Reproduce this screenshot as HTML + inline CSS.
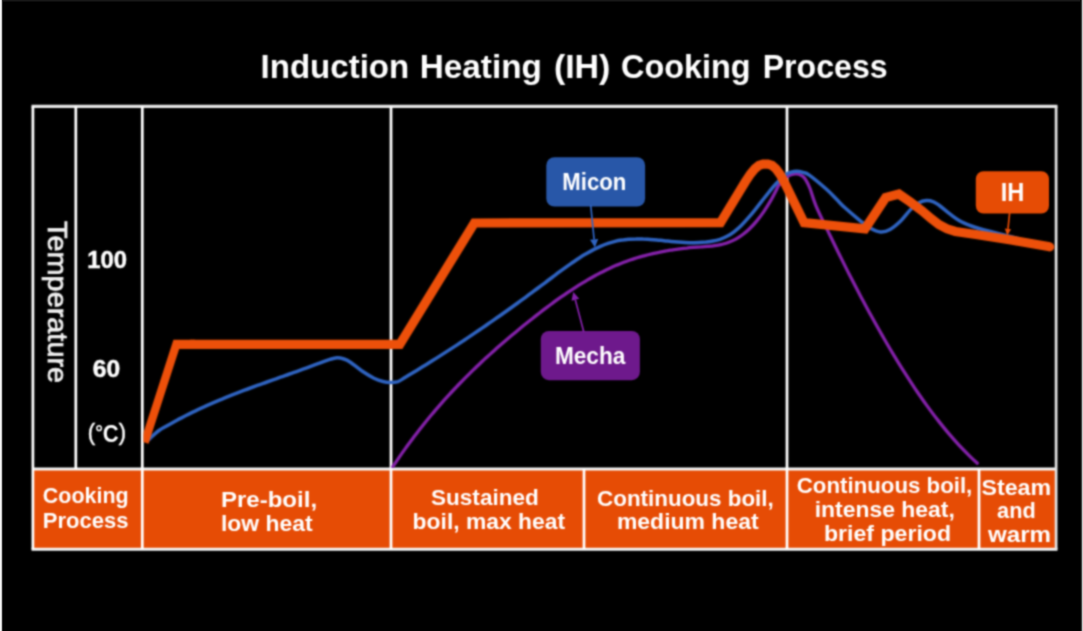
<!DOCTYPE html>
<html><head><meta charset="utf-8"><title>Induction Heating (IH) Cooking Process</title>
<style>html,body{margin:0;padding:0;background:#000;overflow:hidden}body{position:relative;width:1083px;height:631px;font-family:"Liberation Sans",sans-serif}.e{position:absolute}</style>
</head><body>
<svg width="1083" height="631" viewBox="0 0 1083 631" font-family="'Liberation Sans', sans-serif" style="display:block"><defs><filter id="bl2" x="100" y="100" width="1000" height="400" filterUnits="userSpaceOnUse" color-interpolation-filters="sRGB"><feConvolveMatrix order="7 1" kernelMatrix="0.00000 0.00004 0.07239 0.85513 0.07239 0.00004 0.00000" edgeMode="none" preserveAlpha="false" result="h"/><feConvolveMatrix in="h" order="1 7" kernelMatrix="0.00000 0.00004 0.07239 0.85513 0.07239 0.00004 0.00000" edgeMode="none" preserveAlpha="false"/></filter><filter id="bl" x="0" y="0" width="1083" height="631" filterUnits="userSpaceOnUse" color-interpolation-filters="sRGB"><feConvolveMatrix order="7 1" kernelMatrix="0.00044 0.02191 0.22831 0.49868 0.22831 0.02191 0.00044" edgeMode="duplicate" preserveAlpha="true" result="h"/><feConvolveMatrix in="h" order="1 7" kernelMatrix="0.00044 0.02191 0.22831 0.49868 0.22831 0.02191 0.00044" edgeMode="duplicate" preserveAlpha="true"/></filter></defs><g filter="url(#bl)"><rect x="0" y="0" width="1083" height="631" fill="#000"/>
<rect x="32.9" y="469" width="1023.2" height="80.2" fill="#e64c05"/>
<line x1="31.525" y1="106.4" x2="1057.475" y2="106.4" stroke="#e6e6e6" stroke-width="3.1"/>
<line x1="32.9" y1="469.0" x2="1056.1" y2="469.0" stroke="#f4f4f4" stroke-width="3.1"/>
<line x1="31.525" y1="549.3000000000001" x2="1057.475" y2="549.3000000000001" stroke="#f4f4f4" stroke-width="3.1"/>
<line x1="32.9" y1="106.4" x2="32.9" y2="549.2" stroke="#ffffff" stroke-width="2.75"/>
<line x1="1056.1" y1="106.4" x2="1056.1" y2="549.2" stroke="#e2e2e2" stroke-width="2.75"/>
<line x1="75.8" y1="106.4" x2="75.8" y2="469.0" stroke="#ffffff" stroke-width="2.75"/>
<line x1="142.3" y1="106.4" x2="142.3" y2="549.2" stroke="#ffffff" stroke-width="2.75"/>
<line x1="391.0" y1="106.4" x2="391.0" y2="549.2" stroke="#ffffff" stroke-width="2.75"/>
<line x1="584.0" y1="469.0" x2="584.0" y2="549.2" stroke="#ffffff" stroke-width="2.75"/>
<line x1="787.0" y1="106.4" x2="787.0" y2="549.2" stroke="#ffffff" stroke-width="2.75"/>
<line x1="979.0" y1="469.0" x2="979.0" y2="549.2" stroke="#ffffff" stroke-width="2.75"/>
<clipPath id="plot"><rect x="143.5" y="108" width="912" height="360"/></clipPath>
<g clip-path="url(#plot)" fill="none"><g filter="url(#bl2)">
<path d="M392.8,466.6 C394.0,464.9 397.5,459.7 399.8,456.4 C402.1,453.0 404.5,449.7 406.8,446.5 C409.1,443.3 411.5,440.2 413.8,437.1 C416.1,434.0 418.5,431.0 420.8,428.0 C423.1,425.1 425.5,422.1 427.8,419.3 C430.1,416.4 432.5,413.7 434.8,410.9 C437.1,408.2 439.5,405.5 441.8,402.8 C444.1,400.2 446.5,397.6 448.8,395.1 C451.1,392.5 453.5,390.0 455.8,387.6 C458.1,385.1 460.5,382.7 462.8,380.3 C465.1,377.9 467.5,375.6 469.8,373.3 C472.1,371.0 474.5,368.8 476.8,366.5 C479.1,364.3 481.5,362.1 483.8,359.9 C486.1,357.8 488.5,355.7 490.8,353.6 C493.1,351.5 495.5,349.4 497.8,347.3 C500.1,345.3 502.5,343.3 504.8,341.3 C507.1,339.3 509.5,337.3 511.8,335.3 C514.1,333.4 516.5,331.4 518.8,329.5 C521.1,327.6 523.5,325.6 525.8,323.8 C528.1,321.9 530.5,320.0 532.8,318.2 C535.1,316.3 537.5,314.5 539.8,312.7 C542.1,310.9 544.5,309.1 546.8,307.4 C549.1,305.6 551.5,303.9 553.8,302.2 C556.1,300.5 558.5,298.8 560.8,297.2 C563.1,295.6 565.5,294.0 567.8,292.4 C570.1,290.8 572.5,289.3 574.8,287.8 C577.1,286.3 579.5,284.8 581.8,283.4 C584.1,282.0 586.5,280.6 588.8,279.2 C591.1,277.9 593.5,276.6 595.8,275.3 C598.1,274.1 600.5,272.8 602.8,271.7 C605.1,270.5 607.5,269.3 609.8,268.3 C612.1,267.2 614.5,266.1 616.8,265.1 C619.1,264.2 621.5,263.2 623.8,262.3 C626.1,261.4 628.5,260.6 630.8,259.8 C633.1,259.0 635.5,258.3 637.8,257.5 C640.1,256.8 642.5,256.2 644.8,255.6 C647.1,254.9 649.5,254.3 651.8,253.8 C654.1,253.3 656.5,252.7 658.8,252.3 C661.1,251.8 663.5,251.4 665.8,251.0 C668.1,250.5 670.5,250.2 672.8,249.8 C675.1,249.5 677.5,249.2 679.8,248.9 C682.1,248.6 684.5,248.3 686.8,248.1 C689.1,247.8 691.5,247.6 693.8,247.4 C696.1,247.2 698.5,247.0 700.8,246.9 C703.1,246.7 705.5,246.6 707.8,246.4 C710.1,246.2 712.5,246.0 714.8,245.6 C717.1,245.3 719.5,244.9 721.8,244.4 C724.1,243.8 726.5,243.2 728.8,242.3 C731.1,241.4 733.5,240.4 735.8,239.1 C738.1,237.8 740.5,236.3 742.8,234.5 C745.1,232.8 747.5,230.8 749.8,228.5 C752.1,226.3 754.5,223.8 756.8,220.9 C759.1,218.1 761.5,215.0 763.8,211.6 C766.1,208.2 768.5,204.4 770.8,200.4 C773.1,196.3 776.5,189.6 777.8,187.1 C779.1,184.6 777.6,186.7 778.6,185.5 C779.6,184.2 782.3,181.1 784.0,179.5 C785.7,177.9 787.2,176.5 789.0,175.6 C790.8,174.7 793.3,174.0 795.0,173.8 C796.7,173.6 797.7,173.8 799.0,174.3 C800.3,174.8 801.8,175.6 803.0,176.6 C804.2,177.6 805.0,178.6 806.2,180.6 C807.4,182.6 808.3,184.2 810.0,188.5 C811.7,192.8 813.3,199.5 816.2,206.3 C819.1,213.2 823.5,221.9 827.2,229.6 C830.9,237.2 834.5,244.8 838.2,252.2 C841.9,259.6 845.5,267.0 849.2,274.2 C852.9,281.4 856.5,288.4 860.2,295.4 C863.9,302.3 867.5,309.1 871.2,315.8 C874.9,322.5 878.5,329.0 882.2,335.4 C885.9,341.8 889.5,348.1 893.2,354.1 C896.9,360.2 900.5,366.2 904.2,371.9 C907.9,377.7 911.5,383.3 915.2,388.8 C918.9,394.2 922.5,399.5 926.2,404.6 C929.9,409.7 933.5,414.6 937.2,419.3 C940.9,424.0 944.5,428.6 948.2,432.9 C951.9,437.3 955.5,441.4 959.2,445.4 C962.9,449.3 967.2,453.6 970.2,456.6 C973.2,459.6 976.1,462.1 977.3,463.2" stroke="#8521aa" stroke-width="3.3" stroke-linecap="round"/>
<path d="M147.0,441.5 C147.5,441.0 148.0,440.2 150.0,438.4 C152.0,436.6 156.0,432.7 159.0,430.5 C162.0,428.4 165.0,427.0 168.0,425.2 C171.0,423.5 174.0,421.9 177.0,420.2 C180.0,418.6 183.0,417.1 186.0,415.5 C189.0,414.0 192.0,412.5 195.0,411.1 C198.0,409.6 201.0,408.2 204.0,406.9 C207.0,405.5 210.0,404.2 213.0,402.9 C216.0,401.6 219.0,400.3 222.0,399.1 C225.0,397.8 228.0,396.6 231.0,395.4 C234.0,394.2 237.0,393.1 240.0,391.9 C243.0,390.8 246.0,389.6 249.0,388.5 C252.0,387.4 255.0,386.3 258.0,385.2 C261.0,384.1 264.0,383.1 267.0,382.0 C270.0,380.9 273.0,379.8 276.0,378.8 C279.0,377.7 282.0,376.7 285.0,375.6 C288.0,374.5 291.0,373.5 294.0,372.4 C297.0,371.3 300.0,370.3 303.0,369.2 C306.0,368.1 309.5,366.8 312.0,365.9 C314.5,365.0 315.0,364.8 318.0,363.7 C321.0,362.6 326.8,360.4 330.0,359.4 C333.2,358.4 334.7,357.9 337.0,357.8 C339.3,357.7 341.8,358.3 344.0,359.0 C346.2,359.7 347.0,360.0 350.0,362.0 C353.0,364.0 358.0,368.3 362.0,371.0 C366.0,373.7 370.5,376.4 374.0,378.2 C377.5,379.9 380.3,380.8 383.0,381.5 C385.7,382.2 387.5,382.4 390.0,382.4 C392.5,382.4 395.5,382.4 398.0,381.6 C400.5,380.7 402.7,378.8 405.0,377.4 C407.3,376.1 409.7,374.7 412.0,373.3 C414.3,371.8 416.7,370.4 419.0,369.0 C421.3,367.6 423.7,366.1 426.0,364.7 C428.3,363.3 430.7,361.8 433.0,360.3 C435.3,358.9 437.7,357.4 440.0,355.9 C442.3,354.4 444.7,352.9 447.0,351.4 C449.3,349.9 451.7,348.4 454.0,346.9 C456.3,345.4 458.7,343.8 461.0,342.3 C463.3,340.7 465.7,339.2 468.0,337.6 C470.3,336.1 472.7,334.5 475.0,332.9 C477.3,331.3 479.7,329.7 482.0,328.1 C484.3,326.5 486.7,324.9 489.0,323.3 C491.3,321.7 493.7,320.1 496.0,318.4 C498.3,316.8 500.7,315.2 503.0,313.5 C505.3,311.9 507.7,310.2 510.0,308.5 C512.3,306.8 514.7,305.2 517.0,303.5 C519.3,301.8 521.7,300.1 524.0,298.4 C526.3,296.7 528.7,295.0 531.0,293.2 C533.3,291.5 535.7,289.8 538.0,288.0 C540.3,286.3 542.7,284.5 545.0,282.8 C547.3,281.0 549.7,279.2 552.0,277.5 C554.3,275.7 556.7,274.0 559.0,272.2 C561.3,270.5 563.7,268.8 566.0,267.1 C568.3,265.4 570.7,263.8 573.0,262.2 C575.3,260.6 577.7,259.0 580.0,257.5 C582.3,256.0 584.7,254.6 587.0,253.2 C589.3,251.9 591.7,250.6 594.0,249.4 C596.3,248.2 598.7,247.1 601.0,246.1 C603.3,245.1 605.7,244.2 608.0,243.4 C610.3,242.6 612.7,242.0 615.0,241.4 C617.3,240.8 619.7,240.4 622.0,240.1 C624.3,239.7 626.7,239.5 629.0,239.3 C631.3,239.1 633.7,239.0 636.0,239.0 C638.3,238.9 640.7,239.0 643.0,239.1 C645.3,239.1 647.7,239.3 650.0,239.4 C652.3,239.6 654.7,239.8 657.0,240.0 C659.3,240.2 661.7,240.5 664.0,240.7 C666.3,240.9 668.7,241.2 671.0,241.4 C673.3,241.6 675.7,241.8 678.0,242.0 C680.3,242.2 682.7,242.4 685.0,242.5 C687.3,242.6 689.7,242.7 692.0,242.7 C694.3,242.8 696.7,242.7 699.0,242.6 C701.3,242.5 703.7,242.3 706.0,242.1 C708.3,241.8 710.7,241.5 713.0,241.0 C715.3,240.6 717.7,240.0 720.0,239.3 C722.3,238.5 724.7,237.6 727.0,236.3 C729.3,235.1 731.7,233.6 734.0,231.8 C736.3,230.0 738.7,228.0 741.0,225.7 C743.3,223.4 745.7,220.9 748.0,218.2 C750.3,215.6 752.7,212.7 755.0,209.8 C757.3,206.9 759.7,203.9 762.0,200.9 C764.3,198.0 766.7,194.9 769.0,192.1 C771.3,189.2 773.2,186.6 776.0,183.7 C778.8,180.8 783.0,176.7 785.5,174.8 C788.0,172.9 789.1,172.8 791.0,172.2 C792.9,171.6 794.6,171.2 796.6,171.2 C798.6,171.2 800.9,171.8 803.0,172.4 C805.1,173.1 805.4,172.3 809.3,175.1 C813.2,177.9 821.9,185.2 826.5,189.3 C831.1,193.4 833.7,196.5 836.8,199.6 C839.9,202.7 841.1,204.3 845.0,207.8 C848.9,211.3 856.1,217.4 860.3,220.8 C864.5,224.2 866.6,226.1 870.0,228.0 C873.4,229.9 877.3,231.8 880.6,232.0 C883.9,232.2 886.6,231.4 890.0,229.5 C893.4,227.6 897.5,224.1 900.9,220.8 C904.3,217.5 907.6,212.6 910.5,209.6 C913.4,206.6 915.9,204.5 918.5,203.0 C921.1,201.5 923.8,200.8 926.3,200.6 C928.8,200.4 931.3,201.0 933.5,201.8 C935.7,202.6 936.7,203.5 939.4,205.5 C942.1,207.5 946.1,211.1 949.5,213.7 C952.9,216.2 956.1,218.8 959.5,220.8 C962.9,222.8 966.6,224.2 970.0,225.5 C973.4,226.8 975.3,227.5 980.0,228.8 C984.7,230.1 991.3,231.8 998.0,233.5 C1004.7,235.2 1016.3,238.1 1020.0,239.0" stroke="#2f64c2" stroke-width="3.5"/>
<polygon points="140.65,441.33 173.43,339.75 195,339.75 195,348.95 179.18,348.95 148.55,443.87" fill="#ed500a"/>
<g transform="scale(1,1.0)"><path d="M190.0,344.35 L399.8,344.35 L474.3,223.00 L720.5,222.70 L745.2,182.00 L750.5,174.00 L755.0,168.60 L759.0,165.40 L763.0,164.10 L768.0,164.10 L772.0,165.40 L776.0,168.80 L780.5,175.00 L785.3,184.00 L804.1,222.70 L865.0,228.90 L885.7,197.60 L898.9,194.10 L910.0,201.80 L922.0,210.80 L931.0,218.50 L939.0,224.60 L947.0,228.80 L955.4,231.50 L977.6,234.80 L1010.9,240.00 L1049.8,246.70" stroke="#ed500a" stroke-width="9.2" stroke-linejoin="miter" stroke-miterlimit="10"/><circle cx="1049.8" cy="246.90" r="4.5" fill="#ed500a"/></g>
</g></g>
<rect x="546.3" y="157.2" width="98.8" height="49.4" rx="8.2" fill="#2857a8"/>
<rect x="540.8" y="330.9" width="99.1" height="49.3" rx="8.2" fill="#6e198c"/>
<rect x="975.8" y="171.2" width="73.2" height="42.2" rx="7.6" fill="#e64c05"/>
<line x1="590.7" y1="205" x2="594.1" y2="239.4" stroke="#2f64c2" stroke-width="1.7"/><polygon points="594.9,247.4 590.0,239.8 598.2,239.0" fill="#2f64c2"/>
<line x1="583.8" y1="332" x2="575.3" y2="299.7" stroke="#8521aa" stroke-width="1.7"/><polygon points="573.3,292.0 579.2,298.7 571.5,300.8" fill="#8521aa"/>
<line x1="1009.7" y1="212" x2="1008.0" y2="228.9" stroke="#e64c05" stroke-width="1.7"/><polygon points="1007.3,235.4 1004.8,228.6 1011.1,229.3" fill="#e64c05"/>
<text x="562.3" y="190.4" font-size="24.5" font-weight="bold" text-anchor="start" fill="#fff" stroke="#fff" stroke-width="0.0" textLength="64.0" lengthAdjust="spacingAndGlyphs">Micon</text>
<text x="554.9" y="364.2" font-size="24" font-weight="bold" text-anchor="start" fill="#fff" stroke="#fff" stroke-width="0.0" textLength="70.5" lengthAdjust="spacingAndGlyphs">Mecha</text>
<text x="1000.8" y="200.9" font-size="25" font-weight="bold" text-anchor="start" fill="#fff" stroke="#fff" stroke-width="0.0" textLength="23.6" lengthAdjust="spacingAndGlyphs">IH</text>
<text x="260.6" y="77.9" font-size="33.6" font-weight="bold" text-anchor="start" fill="#fff" stroke="#fff" stroke-width="0.0" textLength="148.6" lengthAdjust="spacingAndGlyphs">Induction</text>
<text x="419.8" y="77.9" font-size="33.6" font-weight="bold" text-anchor="start" fill="#fff" stroke="#fff" stroke-width="0.0" textLength="122.0" lengthAdjust="spacingAndGlyphs">Heating</text>
<text x="553.9" y="77.9" font-size="33.6" font-weight="bold" text-anchor="start" fill="#fff" stroke="#fff" stroke-width="0.0" textLength="56.5" lengthAdjust="spacingAndGlyphs">(IH)</text>
<text x="621.0" y="77.9" font-size="33.6" font-weight="bold" text-anchor="start" fill="#fff" stroke="#fff" stroke-width="0.0" textLength="129.6" lengthAdjust="spacingAndGlyphs">Cooking</text>
<text x="762.7" y="77.9" font-size="33.6" font-weight="bold" text-anchor="start" fill="#fff" stroke="#fff" stroke-width="0.0" textLength="125.0" lengthAdjust="spacingAndGlyphs">Process</text>
<text x="87.2" y="267.7" font-size="23.8" font-weight="bold" text-anchor="start" fill="#fff" stroke="#fff" stroke-width="0.45" textLength="39.7" lengthAdjust="spacingAndGlyphs">100</text>
<text x="92.8" y="376.7" font-size="23.3" font-weight="bold" text-anchor="start" fill="#fff" stroke="#fff" stroke-width="0.45" textLength="27.4" lengthAdjust="spacingAndGlyphs">60</text>
<text x="87.8" y="441.6" font-size="24" fill="#fff" textLength="38.3" lengthAdjust="spacingAndGlyphs"><tspan font-weight="normal" dy="-1.5" stroke="#fff" stroke-width="0.5">(</tspan><tspan font-weight="bold" font-size="21" dy="-0.8">°</tspan><tspan font-weight="bold" dy="2.3">C</tspan><tspan font-weight="normal" dy="-1.5" stroke="#fff" stroke-width="0.5">)</tspan></text>
<text transform="translate(47.6,221.1) rotate(90)" font-size="28.3" fill="#f2f2f2" stroke="#f2f2f2" stroke-width="0.7" textLength="162" lengthAdjust="spacingAndGlyphs">Temperature</text>
<text x="42.8" y="503.4" font-size="22" font-weight="bold" text-anchor="start" fill="#fff" stroke="#fff" stroke-width="0.0" textLength="85.8" lengthAdjust="spacingAndGlyphs">Cooking</text>
<text x="42.8" y="528.3" font-size="22" font-weight="bold" text-anchor="start" fill="#fff" stroke="#fff" stroke-width="0.0" textLength="85.8" lengthAdjust="spacingAndGlyphs">Process</text>
<text x="220.9" y="506.7" font-size="22.6" font-weight="bold" text-anchor="start" fill="#fff" stroke="#fff" stroke-width="0.0" textLength="96.2" lengthAdjust="spacingAndGlyphs">Pre-boil,</text>
<text x="220.9" y="530.6" font-size="22.6" font-weight="bold" text-anchor="start" fill="#fff" stroke="#fff" stroke-width="0.0" textLength="91.7" lengthAdjust="spacingAndGlyphs">low heat</text>
<text x="431.0" y="505.2" font-size="22.6" font-weight="bold" text-anchor="start" fill="#fff" stroke="#fff" stroke-width="0.0" textLength="107.8" lengthAdjust="spacingAndGlyphs">Sustained</text>
<text x="412.6" y="528.5" font-size="22.6" font-weight="bold" text-anchor="start" fill="#fff" stroke="#fff" stroke-width="0.0" textLength="152.5" lengthAdjust="spacingAndGlyphs">boil, max heat</text>
<text x="597.0" y="505.5" font-size="22.6" font-weight="bold" text-anchor="start" fill="#fff" stroke="#fff" stroke-width="0.0" textLength="176.8" lengthAdjust="spacingAndGlyphs">Continuous boil,</text>
<text x="616.9" y="529.4" font-size="22.6" font-weight="bold" text-anchor="start" fill="#fff" stroke="#fff" stroke-width="0.0" textLength="141.7" lengthAdjust="spacingAndGlyphs">medium heat</text>
<text x="796.8" y="492.5" font-size="22.6" font-weight="bold" text-anchor="start" fill="#fff" stroke="#fff" stroke-width="0.0" textLength="175.5" lengthAdjust="spacingAndGlyphs">Continuous boil,</text>
<text x="814.7" y="517.1" font-size="22.6" font-weight="bold" text-anchor="start" fill="#fff" stroke="#fff" stroke-width="0.0" textLength="140.1" lengthAdjust="spacingAndGlyphs">intense heat,</text>
<text x="823.9" y="540.7" font-size="22.6" font-weight="bold" text-anchor="start" fill="#fff" stroke="#fff" stroke-width="0.0" textLength="127.2" lengthAdjust="spacingAndGlyphs">brief period</text>
<text x="981.5" y="494.6" font-size="22.6" font-weight="bold" text-anchor="start" fill="#fff" stroke="#fff" stroke-width="0.0" textLength="69.6" lengthAdjust="spacingAndGlyphs">Steam</text>
<text x="997.1" y="518.3" font-size="22.6" font-weight="bold" text-anchor="start" fill="#fff" stroke="#fff" stroke-width="0.0" textLength="38.6" lengthAdjust="spacingAndGlyphs">and</text>
<text x="988.0" y="542" font-size="22.6" font-weight="bold" text-anchor="start" fill="#fff" stroke="#fff" stroke-width="0.0" textLength="63.1" lengthAdjust="spacingAndGlyphs">warm</text></g></svg>
<div class="e" style="left:0;top:0;width:1px;height:631px;background:#f8f8f8"></div>
<div class="e" style="left:1px;top:0;width:1px;height:631px;background:#c4c4c4"></div>
<div class="e" style="left:2px;top:0;width:1px;height:631px;background:#2e2e2e"></div>
<div class="e" style="left:3px;top:0;width:1080px;height:1px;background:#181818"></div>
<div class="e" style="left:3px;top:1px;width:1080px;height:1px;background:#0c0c0c"></div>
<div class="e" style="left:1082px;top:0;width:1px;height:631px;background:#c5c5c5"></div>
<div class="e" style="left:1081px;top:0;width:1px;height:631px;background:#484848"></div>
<div class="e" style="left:1080px;top:0;width:1px;height:631px;background:#0b0b0b"></div>
</body></html>
